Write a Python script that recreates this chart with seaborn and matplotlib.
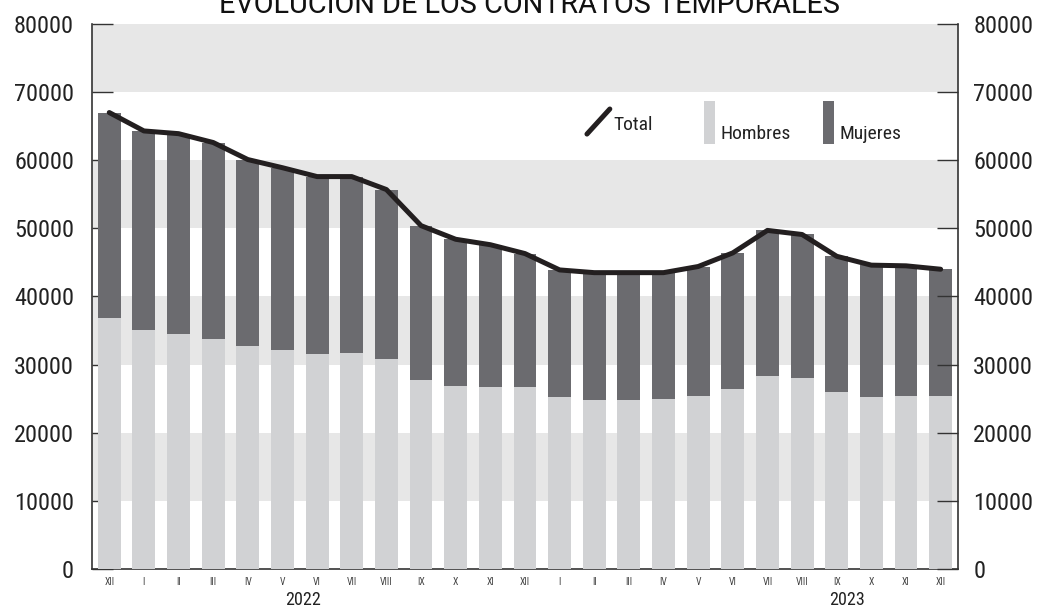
import seaborn as sns
import matplotlib.pyplot as plt
import matplotlib.patches as mpatches
import matplotlib.transforms as mtransforms
import numpy as np
import pandas as pd

# months from XII-2021 to XII-2023
meses = ["XII", "I", "II", "III", "IV", "V", "VI", "VII", "VIII", "IX", "X", "XI", "XII",
         "I", "II", "III", "IV", "V", "VI", "VII", "VIII", "IX", "X", "XI", "XII"]
hombres = [36900, 35100, 34500, 33800, 32700, 32200, 31600, 31700, 30800, 27700, 26900, 26700, 26700,
           25200, 24800, 24800, 25000, 25400, 26400, 28400, 28000, 26000, 25300, 25400, 25400]
total = [67000, 64300, 63900, 62600, 60100, 58900, 57600, 57600, 55700, 50400, 48400, 47600, 46300,
         43900, 43500, 43500, 43500, 44400, 46400, 49700, 49100, 45900, 44600, 44500, 44000]
years = ["2022", "2023"]
year_pos = [5.6, 21.3]

df = pd.DataFrame({"pos": np.arange(len(meses)), "mes": meses,
                   "Hombres": hombres, "Total": total})

sns.set_style("white")
plt.rcParams['font.family'] = ['Roboto Condensed', 'Roboto', 'DejaVu Sans']

fig, ax = plt.subplots(figsize=(10.39, 6.10), dpi=100)
fig.subplots_adjust(left=0.0885, right=0.922, bottom=0.0672, top=0.9607)

# alternating background bands
for lo in (10000, 30000, 50000, 70000):
    ax.axhspan(lo, lo + 10000, color='#e7e7e7', zorder=0, lw=0)

# stacked bars: full total in dark (Mujeres on top), Hombres drawn over it
sns.barplot(data=df, x="pos", y="Total", native_scale=True, color="#6b6b6f",
            width=0.66, saturation=1, linewidth=0, ax=ax, zorder=2)
sns.barplot(data=df, x="pos", y="Hombres", native_scale=True, color="#d1d2d4",
            width=0.66, saturation=1, linewidth=0, ax=ax, zorder=3)
sns.lineplot(data=df, x="pos", y="Total", color="#231f20", lw=3.6, ax=ax, zorder=4,
             solid_joinstyle='round', solid_capstyle='round')

ax.set_xlim(-0.5, len(meses) - 0.5)
ax.set_ylim(0, 80000)
ax.set_xlabel("")
ax.set_ylabel("")

ax.set_xticks(df["pos"], meses)
ax.set_xticks(np.arange(0.5, len(meses) - 1), minor=True)
ax.tick_params(axis='x', which='major', length=0, labelsize=7, labelcolor='#444', pad=6)
ax.tick_params(axis='x', which='minor', direction='in', length=10, width=1.2, color='#333')

yt = list(range(0, 80001, 10000))
ax.set_yticks(yt, [str(v) for v in yt])
ax.tick_params(axis='y', direction='in', length=15, width=1, color='#333',
               labelsize=17.5, labelcolor='#222', pad=13)

ax2 = ax.twinx()
ax2.set_ylim(0, 80000)
ax2.set_yticks(yt, [str(v) for v in yt])
ax2.tick_params(axis='y', direction='in', length=15, width=1, color='#333',
                labelsize=17.5, labelcolor='#222', pad=11)

for s in ["top", "right"]:
    ax.spines[s].set_visible(False)
for s in ["left", "bottom"]:
    ax.spines[s].set_color('#333')
    ax.spines[s].set_linewidth(1.2)
for s in ["top", "left", "bottom"]:
    ax2.spines[s].set_visible(False)
ax2.spines["right"].set_color('#333')
ax2.spines["right"].set_linewidth(1.2)

# hand-made legend
ax.plot([0.5716, 0.598], [0.798, 0.844], transform=ax.transAxes, color="#231f20",
        lw=3.6, solid_capstyle='round', zorder=5)
ax.text(0.6016, 0.8055, "Total", transform=ax.transAxes, fontsize=14, color='#222',
        va='baseline', zorder=5)
ax.add_patch(mpatches.Rectangle((0.7067, 0.7798), 0.0127, 0.0789, transform=ax.transAxes,
                                color="#d1d2d4", lw=0, zorder=5))
ax.text(0.7263, 0.789, "Hombres", transform=ax.transAxes, fontsize=14, color='#222',
        va='baseline', zorder=5)
ax.add_patch(mpatches.Rectangle((0.8441, 0.7798), 0.0127, 0.0789, transform=ax.transAxes,
                                color="#6b6b6f", lw=0, zorder=5))
ax.text(0.8637, 0.789, "Mujeres", transform=ax.transAxes, fontsize=14, color='#222',
        va='baseline', zorder=5)

# year labels under the month ticks
trans = mtransforms.blended_transform_factory(ax.transData, fig.transFigure)
for yr, xp in zip(years, year_pos):
    ax.text(xp, 0.0164, yr, transform=trans, ha='center', va='center',
            fontsize=13, color='#222')

fig.text(0.510, 1 - 13 / 610, "EVOLUCIÓN DE LOS CONTRATOS TEMPORALES", ha='center',
         va='baseline', fontsize=20.8, color='#111', family=['Roboto', 'DejaVu Sans'])

plt.savefig('out.png', dpi=100)
